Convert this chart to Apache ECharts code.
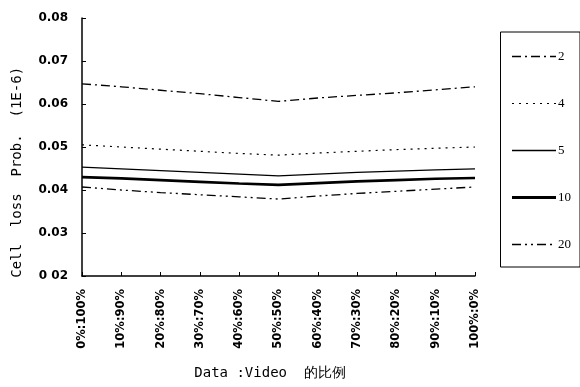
<!DOCTYPE html>
<html>
<head>
    <meta charset="utf-8">
    <title>Cell loss</title>
    <style type="text/css">
        body { margin: 0; background: #fff; }
        html, body, #chart { width: 580px; height: 387px; }
    </style>
</head>
<body>
    <div id="chart"></div>
    <script src="https://cdn.jsdelivr.net/npm/echarts@6/dist/echarts.min.js"></script>
    <script>
        var categories = ['0%:100%', '10%:90%', '20%:80%', '30%:70%', '40%:60%', '50%:50%',
            '60%:40%', '70%:30%', '80%:20%', '90%:10%', '100%:0%'];
        var yTicks = ['0 02', '0.03', '0.04', '0.05', '0.06', '0.07', '0.08'];

        var s2 = [0.0647, 0.0640, 0.0632, 0.0624, 0.0615, 0.0606, 0.0614, 0.0620, 0.0626, 0.0633, 0.0640];
        var s4 = [0.0505, 0.0500, 0.0495, 0.0490, 0.0485, 0.0481, 0.0486, 0.0490, 0.0494, 0.0497, 0.0500];
        var s5 = [0.0453, 0.0449, 0.0445, 0.0441, 0.0437, 0.0433, 0.0437, 0.0441, 0.0444, 0.0447, 0.0449];
        var s10 = [0.0430, 0.0427, 0.0423, 0.0419, 0.0415, 0.0412, 0.0416, 0.0420, 0.0423, 0.0426, 0.0428];
        var s20 = [0.0407, 0.0400, 0.0394, 0.0389, 0.0384, 0.0379, 0.0386, 0.0392, 0.0397, 0.0402, 0.0407];

        var font = 'DejaVu Sans';
        var chart = echarts.init(document.getElementById('chart'));

        function line(name, data, width, dash) {
            return {
                name: name,
                type: 'line',
                data: data,
                symbol: 'none',
                silent: true,
                itemStyle: { color: '#000' },
                lineStyle: { color: '#000', width: width, type: dash }
            };
        }

        chart.setOption({
            animation: false,
            grid: { left: 82, right: 105, top: 18, bottom: 111 },
            legend: {
                orient: 'vertical',
                right: 0,
                top: 32,
                itemGap: 34,
                itemWidth: 44,
                itemHeight: 8,
                padding: [18, 9, 16, 10],
                borderColor: '#000',
                borderWidth: 1,
                itemStyle: { opacity: 0 },
                textStyle: { fontFamily: 'Liberation Serif', fontSize: 13, color: '#000', padding: [0, 0, 0, -3] },
                data: [
                    { name: '2', lineStyle: { width: 1.3 } },
                    { name: '4', lineStyle: { width: 1.2 } },
                    { name: '5', lineStyle: { width: 1.3 } },
                    { name: '10', lineStyle: { width: 3 } },
                    { name: '20', lineStyle: { width: 1.3 } }
                ]
            },
            xAxis: {
                type: 'category',
                data: categories,
                boundaryGap: false,
                name: 'Data :Video  的比例  ',
                nameLocation: 'middle',
                nameGap: 90,
                nameTextStyle: { fontFamily: 'DejaVu Sans Mono', fontSize: 14, color: '#000' },
                axisLine: { lineStyle: { color: '#000', width: 1.5 } },
                axisTick: { inside: true, length: 4, lineStyle: { color: '#000' } },
                axisLabel: { rotate: 90, fontFamily: font, fontSize: 11.5, fontWeight: 'bold', color: '#000', margin: 13 },
                splitLine: { show: false }
            },
            yAxis: {
                type: 'value',
                min: 0.02,
                max: 0.08,
                interval: 0.01,
                name: 'Cell  loss  Prob.  (1E-6)      ',
                nameLocation: 'middle',
                nameGap: 58,
                nameTextStyle: { fontFamily: 'DejaVu Sans Mono', fontSize: 14, color: '#000' },
                axisLine: { show: true, lineStyle: { color: '#000', width: 1.5 } },
                axisTick: { show: true, inside: true, length: 4, lineStyle: { color: '#000' } },
                axisLabel: {
                    fontFamily: font, fontSize: 12, fontWeight: 'bold', color: '#000', margin: 14,
                    formatter: function (v) { return yTicks[Math.round((v - 0.02) * 100)]; }
                },
                splitLine: { show: false }
            },
            series: [
                line('2', s2, 1.3, [9, 4, 2, 4]),
                line('4', s4, 1.2, [2, 5]),
                line('5', s5, 1.3, 'solid'),
                line('10', s10, 2.6, 'solid'),
                line('20', s20, 1.3, [9, 4, 2, 4, 2, 4])
            ]
        });
    </script>
</body>
</html>
